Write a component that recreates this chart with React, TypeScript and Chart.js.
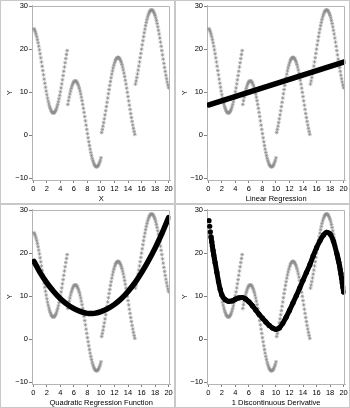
import React, { useEffect, useRef } from "react";
import { Chart, registerables } from "chart.js";

Chart.register(...registerables);

// observed points (x, y)
const X_VALUES = [
  0.1, 0.2, 0.3, 0.4, 0.5, 0.6, 0.7, 0.8, 0.9, 1.0, 1.1, 1.2, 1.3, 1.4, 1.5, 1.6, 1.7, 1.8, 1.9, 2.0,
  2.1, 2.2, 2.3, 2.4, 2.5, 2.6, 2.7, 2.8, 2.9, 3.0, 3.1, 3.2, 3.3, 3.4, 3.5, 3.6, 3.7, 3.8, 3.9, 4.0,
  4.1, 4.2, 4.3, 4.4, 4.5, 4.6, 4.7, 4.8, 4.9, 5.0, 5.1, 5.2, 5.3, 5.4, 5.5, 5.6, 5.7, 5.8, 5.9, 6.0,
  6.1, 6.2, 6.3, 6.4, 6.5, 6.6, 6.7, 6.8, 6.9, 7.0, 7.1, 7.2, 7.3, 7.4, 7.5, 7.6, 7.7, 7.8, 7.9, 8.0,
  8.1, 8.2, 8.3, 8.4, 8.5, 8.6, 8.7, 8.8, 8.9, 9.0, 9.1, 9.2, 9.3, 9.4, 9.5, 9.6, 9.7, 9.8, 9.9, 10.0,
  10.1, 10.2, 10.3, 10.4, 10.5, 10.6, 10.7, 10.8, 10.9, 11.0, 11.1, 11.2, 11.3, 11.4, 11.5, 11.6, 11.7, 11.8, 11.9, 12.0,
  12.1, 12.2, 12.3, 12.4, 12.5, 12.6, 12.7, 12.8, 12.9, 13.0, 13.1, 13.2, 13.3, 13.4, 13.5, 13.6, 13.7, 13.8, 13.9, 14.0,
  14.1, 14.2, 14.3, 14.4, 14.5, 14.6, 14.7, 14.8, 14.9, 15.0, 15.1, 15.2, 15.3, 15.4, 15.5, 15.6, 15.7, 15.8, 15.9, 16.0,
  16.1, 16.2, 16.3, 16.4, 16.5, 16.6, 16.7, 16.8, 16.9, 17.0, 17.1, 17.2, 17.3, 17.4, 17.5, 17.6, 17.7, 17.8, 17.9, 18.0,
  18.1, 18.2, 18.3, 18.4, 18.5, 18.6, 18.7, 18.8, 18.9, 19.0, 19.1, 19.2, 19.3, 19.4, 19.5, 19.6, 19.7, 19.8, 19.9, 20.0,
];

const Y_VALUES = [
  24.77, 24.44, 24.03, 23.52, 22.93, 22.26, 21.52, 20.72, 19.86, 18.95,
  18.01, 17.04, 16.05, 15.05, 14.05, 13.06, 12.10, 11.16, 10.27, 9.42,
  8.63, 7.91, 7.26, 6.69, 6.20, 5.80, 5.50, 5.29, 5.18, 5.17,
  5.26, 5.45, 5.73, 6.12, 6.59, 7.15, 7.78, 8.49, 9.27, 10.11,
  11.00, 11.93, 12.89, 13.87, 14.87, 15.87, 16.86, 17.84, 18.79, 19.70,
  7.16, 8.03, 8.84, 9.59, 10.27, 10.88, 11.40, 11.84, 12.18, 12.43,
  12.58, 12.63, 12.58, 12.43, 12.18, 11.84, 11.40, 10.88, 10.27, 9.59,
  8.84, 8.03, 7.16, 6.25, 5.30, 4.33, 3.33, 2.33, 1.34, 0.35,
  -0.61, -1.54, -2.42, -3.26, -4.04, -4.75, -5.39, -5.94, -6.42, -6.80,
  -7.08, -7.27, -7.37, -7.36, -7.25, -7.04, -6.74, -6.34, -5.86, -5.28,
  0.62, 1.32, 2.09, 2.92, 3.80, 4.72, 5.68, 6.66, 7.65, 8.65,
  9.65, 10.63, 11.58, 12.50, 13.37, 14.20, 14.96, 15.65, 16.27, 16.81,
  17.26, 17.61, 17.88, 18.04, 18.11, 18.07, 17.94, 17.71, 17.38, 16.96,
  16.45, 15.86, 15.19, 14.45, 13.65, 12.79, 11.89, 10.94, 9.97, 8.98,
  7.98, 6.98, 6.00, 5.03, 4.10, 3.20, 2.36, 1.57, 0.84, 0.19,
  11.90, 12.62, 13.41, 14.26, 15.15, 16.09, 17.05, 18.04, 19.04, 20.04,
  21.03, 22.00, 22.94, 23.85, 24.70, 25.51, 26.25, 26.92, 27.51, 28.02,
  28.44, 28.76, 28.99, 29.13, 29.16, 29.09, 28.93, 28.66, 28.31, 27.86,
  27.32, 26.70, 26.01, 25.24, 24.42, 23.55, 22.63, 21.67, 20.69, 19.70,
  18.70, 17.71, 16.72, 15.77, 14.85, 13.97, 13.14, 12.37, 11.67, 11.05,
];

// linear regression fit
const LINEAR_X = [0.1, 20.0];
const LINEAR_Y = [7.05, 17.0];

// quadratic regression fit
const QUAD_X = [0.1, 1, 2, 3, 4, 5, 6, 7, 8, 9, 10, 11, 12, 13, 14, 15, 16, 17, 18, 19, 20];
const QUAD_Y = [18.1, 15.5, 13.1, 11.1, 9.4, 8.1, 7.1, 6.4, 6.0, 6.0, 6.4, 7.1, 8.1, 9.4, 11.1, 13.1, 15.5, 18.2, 21.2, 24.6, 28.3];

// spline fit with one discontinuous derivative
const SPLINE_X = [
  0.1, 0.2, 0.3, 0.4, 0.5, 0.6, 0.7, 0.8, 0.9, 1.0, 1.25, 1.5, 1.75, 2.0, 2.5, 3.0, 3.5, 4.0, 4.5, 5.0,
  5.5, 6.0, 6.5, 7.0, 7.5, 8.0, 8.5, 9.0, 9.5, 10.0, 10.5, 11.0, 11.5, 12.0, 12.5, 13.0, 13.5, 14.0, 14.5, 15.0,
  15.5, 16.0, 16.5, 17.0, 17.5, 18.0, 18.5, 19.0, 19.1, 19.2, 19.3, 19.4, 19.5, 19.6, 19.7, 19.8, 19.9, 20.0,
];
const SPLINE_Y = [
  27.6, 26.3, 25.0, 23.8, 22.7, 21.6, 20.6, 19.6, 18.7, 17.8, 15.6, 13.4, 11.6, 10.3, 9.2, 8.8, 8.9, 9.3, 9.6, 9.7,
  9.4, 8.7, 7.8, 6.8, 5.8, 4.9, 4.0, 3.2, 2.6, 2.3, 2.6, 3.7, 5.1, 6.7, 8.4, 10.1, 11.9, 13.7, 15.5, 17.3,
  19.4, 21.3, 22.9, 24.2, 24.9, 24.5, 22.8, 19.9, 19.3, 18.6, 17.9, 17.1, 16.2, 15.3, 14.2, 13.1, 12.1, 11.0,
];

const X_TICKS = [0, 2, 4, 6, 8, 10, 12, 14, 16, 18, 20];
const Y_TICKS = [-10, 0, 10, 20, 30];
const Y_TICK_LABELS = ["\u221210", "0", "10", "20", "30"];
const Y_TITLE = "Y";
const PANEL_TITLES = ["X", "Linear Regression", "Quadratic Regression Function", "1 Discontinuous Derivative"];

const FONT = "'Liberation Sans', Arial, sans-serif";
const PANEL_W = 175;
const PANEL_H = 204;

const pts = (xs: number[], ys: number[]) => xs.map((x, i) => ({ x, y: ys[i] }));

const framePlugin = {
  id: "frame",
  afterDraw(chart: any) {
    const { ctx, chartArea: a } = chart;
    ctx.save();
    ctx.strokeStyle = "#b4b4b4";
    ctx.lineWidth = 1;
    ctx.beginPath();
    ctx.moveTo(Math.round(a.left) + 0.5, Math.round(a.top) + 0.5);
    ctx.lineTo(Math.round(a.right) - 0.5, Math.round(a.top) + 0.5);
    ctx.lineTo(Math.round(a.right) - 0.5, Math.round(a.bottom));
    ctx.stroke();
    ctx.strokeStyle = "#c8c8c8";
    ctx.strokeRect(0.5, 0.5, chart.width - 1, chart.height - 1);
    ctx.restore();
  },
};

// where closely spaced fitted points pull apart, leave them as separate dots
const steepGap = (ctx: any) =>
  Math.abs(ctx.p1.x - ctx.p0.x) < 1.5 && Math.abs(ctx.p1.y - ctx.p0.y) > 5 ? "rgba(0,0,0,0)" : undefined;

function fitDatasets(kind: number): any[] {
  const base = {
    showLine: true,
    borderColor: "#000",
    backgroundColor: "#000",
    borderCapStyle: "round",
    borderJoinStyle: "round",
    order: 0,
  };
  if (kind === 1)
    return [{ ...base, data: pts(LINEAR_X, LINEAR_Y), borderWidth: 5.5, pointRadius: 0, tension: 0 }];
  if (kind === 2)
    return [{ ...base, data: pts(QUAD_X, QUAD_Y), borderWidth: 5.5, pointRadius: 0, tension: 0.4 }];
  if (kind === 3)
    return [
      {
        ...base,
        data: pts(SPLINE_X, SPLINE_Y),
        borderWidth: 5,
        pointRadius: 2.6,
        pointBorderWidth: 0,
        pointBackgroundColor: "#000",
        cubicInterpolationMode: "monotone",
        segment: { borderColor: steepGap },
      },
    ];
  return [];
}

function Panel({ kind }: { kind: number }) {
  const ref = useRef<HTMLCanvasElement>(null);
  useEffect(() => {
    const tickFont = { family: FONT, size: 7.5 };
    const chart = new Chart(ref.current as HTMLCanvasElement, {
      type: "scatter",
      data: {
        datasets: [
          ...fitDatasets(kind),
          {
            data: pts(X_VALUES, Y_VALUES),
            showLine: false,
            pointStyle: "star",
            pointRadius: 1.9,
            borderWidth: 0.7,
            borderColor: "#8e8e8e",
            backgroundColor: "transparent",
            order: 1,
          },
        ],
      },
      options: {
        animation: false,
        responsive: false,
        devicePixelRatio: 1,
        events: [],
        layout: { padding: { top: 4, right: 4, left: 0, bottom: 0 } },
        plugins: { legend: { display: false }, tooltip: { enabled: false } },
        scales: {
          x: {
            type: "linear",
            min: -0.2,
            max: 20.25,
            afterBuildTicks: (s: any) => {
              s.ticks = X_TICKS.map((v) => ({ value: v }));
            },
            afterFit: (s: any) => {
              s.height = 24;
            },
            ticks: {
              font: tickFont,
              color: "#000",
              padding: 1.5,
              maxRotation: 0,
              autoSkip: false,
              callback: (v: any) => String(v),
            },
            grid: { display: true, drawOnChartArea: false, drawTicks: true, tickLength: 3, color: "#808080" },
            border: { display: true, color: "#b4b4b4" },
            title: {
              display: true,
              text: PANEL_TITLES[kind],
              font: tickFont,
              color: "#000",
              padding: { top: 0, bottom: 1 },
            },
          },
          y: {
            type: "linear",
            min: -10.45,
            max: 30.2,
            afterBuildTicks: (s: any) => {
              s.ticks = Y_TICKS.map((v) => ({ value: v }));
            },
            afterFit: (s: any) => {
              s.width = 32;
            },
            ticks: {
              font: tickFont,
              color: "#000",
              padding: 1,
              callback: (v: any) => Y_TICK_LABELS[Y_TICKS.indexOf(v)] ?? String(v),
            },
            grid: { display: true, drawOnChartArea: false, drawTicks: true, tickLength: 3, color: "#808080" },
            border: { display: true, color: "#b4b4b4" },
            title: {
              display: true,
              text: Y_TITLE,
              font: tickFont,
              color: "#000",
              padding: { top: 5, bottom: 0 },
            },
          },
        },
      } as any,
      plugins: [framePlugin],
    });
    return () => chart.destroy();
  }, [kind]);
  return (
    <canvas
      ref={ref}
      width={PANEL_W}
      height={PANEL_H}
      style={{ display: "block", width: PANEL_W, height: PANEL_H }}
    />
  );
}

export default function App() {
  return (
    <div
      style={{
        position: "absolute",
        left: 0,
        top: 0,
        width: PANEL_W * 2,
        height: PANEL_H * 2,
        background: "#fff",
        display: "grid",
        gridTemplateColumns: `${PANEL_W}px ${PANEL_W}px`,
        gridTemplateRows: `${PANEL_H}px ${PANEL_H}px`,
      }}
    >
      <Panel kind={0} />
      <Panel kind={1} />
      <Panel kind={2} />
      <Panel kind={3} />
    </div>
  );
}
